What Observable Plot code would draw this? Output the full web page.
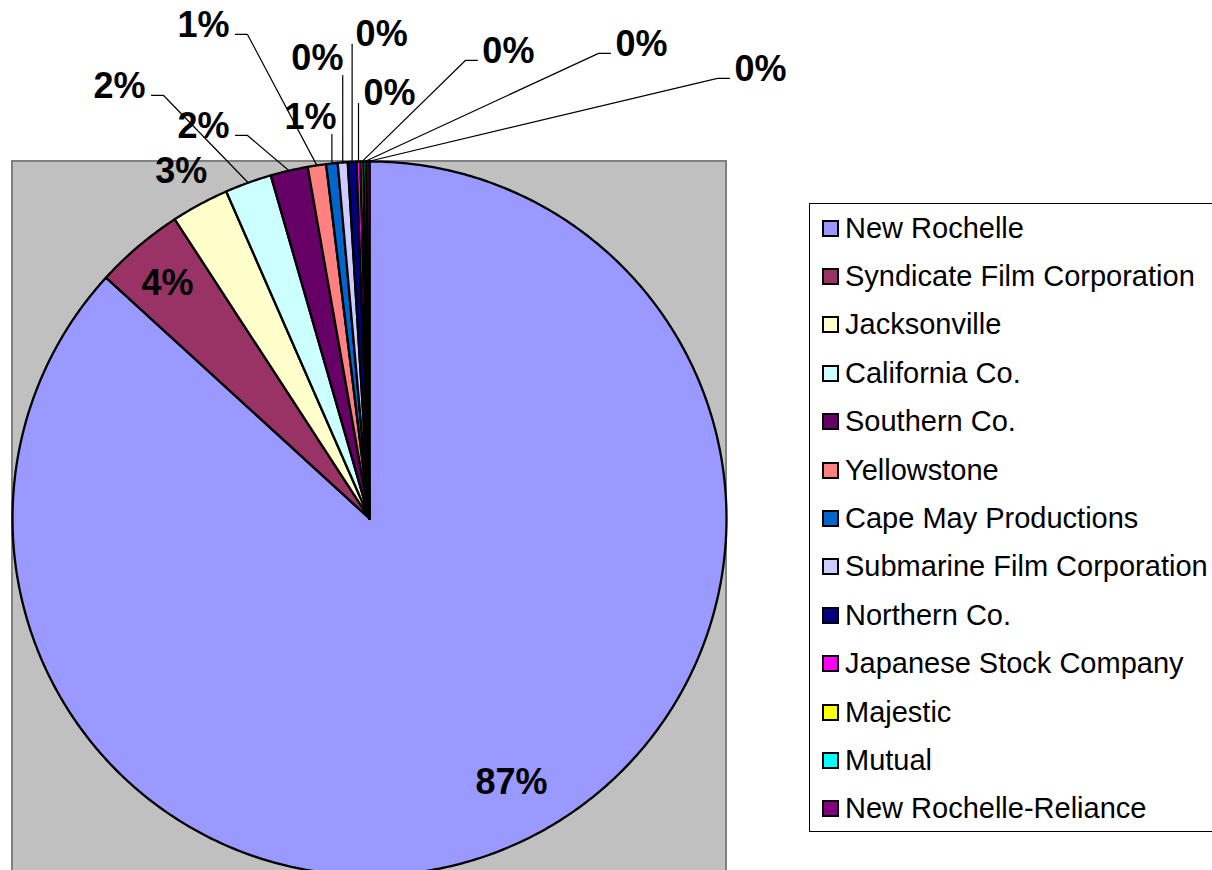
<!DOCTYPE html>
<html>
<head>
<meta charset="utf-8">
<script src="https://cdn.jsdelivr.net/npm/d3@7"></script>
<script src="https://cdn.jsdelivr.net/npm/@observablehq/plot@0.6"></script>
<style>
  html, body { margin: 0; padding: 0; background: #fff; overflow: hidden; }
  #wrap { position: relative; width: 1212px; height: 870px; overflow: hidden; }
  #legend {
    position: absolute; left: 809px; top: 203px; width: 440px; height: 629px;
    box-sizing: border-box; border: 1px solid #000; background: #fff;
    font-family: "Liberation Sans", Arial, sans-serif; font-size: 29px; color: #000;
  }
  .row { display: flex; align-items: center; height: 48.4px; padding-left: 12px; white-space: nowrap; }
  .sw { width: 13px; height: 13px; border: 2px solid #000; margin-right: 6px; flex: none; }
</style>
</head>
<body>
<div id="wrap"></div>
<script>
// ---- data ----
const companies = [
  "New Rochelle", "Syndicate Film Corporation", "Jacksonville", "California Co.",
  "Southern Co.", "Yellowstone", "Cape May Productions", "Submarine Film Corporation",
  "Northern Co.", "Japanese Stock Company", "Majestic", "Mutual", "New Rochelle-Reliance"
];
const shares = [86.79, 4.03, 2.61, 2.11, 1.69, 0.83, 0.52, 0.45, 0.39, 0.18, 0.13, 0.13, 0.14];

// ---- styles ----
const colors = [
  "#9999FF", "#993366", "#FFFFCC", "#CCFFFF", "#660066", "#FF8080", "#0066CC",
  "#CCCCFF", "#000080", "#FF00FF", "#FFFF00", "#00FFFF", "#800080"
];

// ---- label layout (in pie-radius units, relative to pie centre) ----
const labelX = [0.398, -0.566, -0.527, -0.700, -0.465, -0.465, -0.165, -0.146, 0.034, 0.056, 0.389, 0.762, 1.095];
const labelY = [-0.737, 0.661, 0.975, 1.213, 1.101, 1.384, 1.126, 1.291, 1.359, 1.193, 1.311, 1.331, 1.261];
const leaderKind = ["none", "none", "none", "left", "left", "left", "under", "under", "beside", "beside", "right", "right", "right"];

// ---- layout ----
const W = 1212, H = 870, CX = 369, CY = 518, R = 357;
const plotArea = [{x1: -1, x2: 1, y1: -1.05, y2: 1}];

const total = d3.sum(shares);
const deg = Math.PI / 180;
let acc = 0;
const slices = companies.map((name, i) => {
  const a0 = acc / total * 2 * Math.PI;
  acc += shares[i];
  const a1 = acc / total * 2 * Math.PI;
  return {name, i, a0, a1, mid: (a0 + a1) / 2, pct: Math.round(shares[i] / total * 100) + "%"};
});

const slicePts = [];
for (const s of slices) {
  slicePts.push({name: s.name, x: 0, y: 0});
  const n = Math.max(2, Math.ceil((s.a1 - s.a0) / (0.5 * deg)));
  for (let k = 0; k <= n; k++) {
    const a = s.a0 + (s.a1 - s.a0) * k / n;
    slicePts.push({name: s.name, x: Math.sin(a), y: Math.cos(a)});
  }
}

const labels = slices.map(s => ({text: s.pct, x: labelX[s.i], y: labelY[s.i]}));

const px = v => v / R;
const leaders = [];
for (const s of slices) {
  const kind = leaderKind[s.i];
  if (kind === "none") continue;
  const ax = Math.sin(s.mid), ay = Math.cos(s.mid);
  const lx = labelX[s.i], ly = labelY[s.i];
  let pts;
  if (kind === "left") {
    pts = [[ax, ay], [lx + px(44), ly - px(10)], [lx + px(32), ly - px(10)]];
  } else if (kind === "right") {
    pts = [[ax, ay], [lx - px(43), ly - px(10)], [lx - px(31), ly - px(10)]];
  } else if (kind === "under") {
    pts = [[ax, ay], [ax, ly - px(18)]];
  } else {
    pts = [[ax, ay], [ax, ly - px(11)]];
  }
  for (const [x, y] of pts) leaders.push({name: s.name, x, y});
}

const chart = Plot.plot({
  width: W, height: H,
  margin: 0,
  x: {domain: [-CX / R, (W - CX) / R], axis: null},
  y: {domain: [-(H - CY) / R, CY / R], axis: null},
  color: {domain: companies, range: colors},
  style: {fontFamily: "'Liberation Sans', Arial, sans-serif", background: "#fff"},
  marks: [
    Plot.rect(plotArea, {x1: "x1", x2: "x2", y1: "y1", y2: "y2", fill: "#C0C0C0", stroke: "#808080", strokeWidth: 2}),
    Plot.line(slicePts, {x: "x", y: "y", z: "name", fill: "name", stroke: "#000", strokeWidth: 2.3, curve: "linear-closed", strokeLinejoin: "round"}),
    Plot.line(leaders, {x: "x", y: "y", z: "name", stroke: "#000", strokeWidth: 1.2}),
    Plot.text(labels, {x: "x", y: "y", text: "text", fontSize: 36, fontWeight: "bold", fill: "#000", dy: 1})
  ]
});

const wrap = document.getElementById("wrap");
wrap.appendChild(chart);

const legend = document.createElement("div");
legend.id = "legend";
companies.forEach((name, i) => {
  const row = document.createElement("div");
  row.className = "row";
  const sw = document.createElement("span");
  sw.className = "sw";
  sw.style.background = colors[i];
  const t = document.createElement("span");
  t.textContent = name;
  row.appendChild(sw);
  row.appendChild(t);
  legend.appendChild(row);
});
wrap.appendChild(legend);
</script>
</body>
</html>
